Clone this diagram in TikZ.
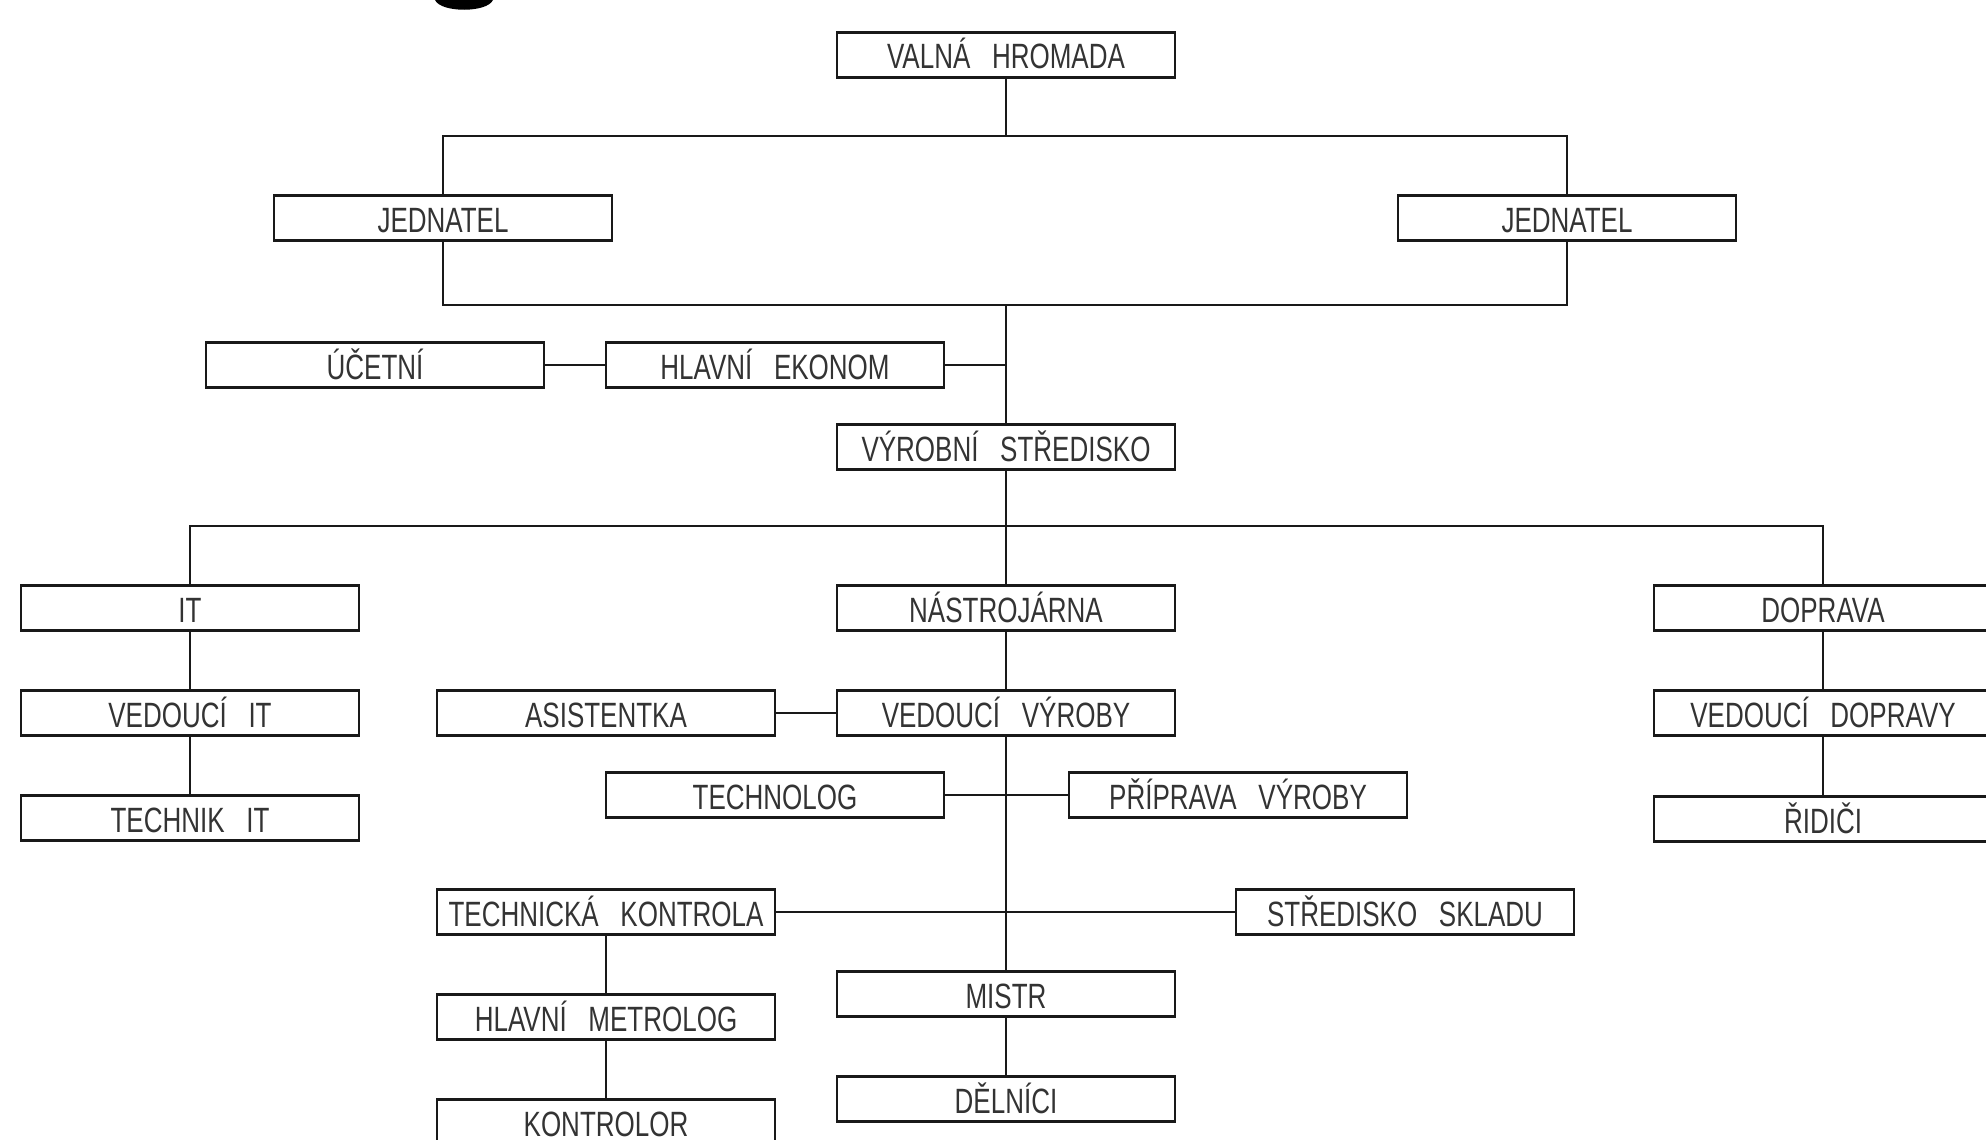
\documentclass[tikz,border=0pt]{standalone}
\usepackage{fontspec}
\newfontfamily\cadfont[FakeStretch=0.74,WordSpace=3]{Liberation Sans}
\usepackage{tikz}
\usetikzlibrary{calc,positioning}

\begin{document}
\begin{tikzpicture}[x=0.02cm, y=-0.02cm, line width=1.25pt, draw=black!90,
	dept/.style={draw, minimum width=6.76cm, minimum height=0.9cm, inner sep=0pt,
		text height=0.56cm, text depth=0cm, text=black!80,
		font=\cadfont\fontsize{20}{20}\selectfont}]
	\useasboundingbox (0,0) rectangle (1986,1139);
	\clip (0,0) rectangle (1986,1139);
	\fill (435,0) .. controls (441,13) and (487,13) .. (493,0) -- cycle;

	\node (valna) [dept] at (1006,55) {VALNÁ HROMADA};
	\node (jedL) [dept] at (443,218) {JEDNATEL};
	\node (jedR) [dept] at (1567,218) {JEDNATEL};
	\node (ucetni) [dept] at (375,365) {ÚČETNÍ};
	\node (ekonom) [dept] at (775,365) {HLAVNÍ EKONOM};
	\node (vyrobni) [dept] at (1006,447) {VÝROBNÍ STŘEDISKO};
	\node (it) [dept] at (190,608) {IT};
	\node (nastroj) [dept] at (1006,608) {NÁSTROJÁRNA};
	\node (doprava) [dept] at (1823,608) {DOPRAVA};
	\node (vedit) [dept] at (190,713) {VEDOUCÍ IT};
	\node (asist) [dept] at (606,713) {ASISTENTKA};
	\node (vedvyr) [dept] at (1006,713) {VEDOUCÍ VÝROBY};
	\node (veddop) [dept] at (1823,713) {VEDOUCÍ DOPRAVY};
	\node (technikit) [dept] at (190,818) {TECHNIK IT};
	\node (technolog) [dept] at (775,795) {TECHNOLOG};
	\node (priprava) [dept] at (1238,795) {PŘÍPRAVA VÝROBY};
	\node (ridici) [dept] at (1823,819) {ŘIDIČI};
	\node (techkon) [dept] at (606,912) {TECHNICKÁ KONTROLA};
	\node (sklad) [dept] at (1405,912) {STŘEDISKO SKLADU};
	\node (mistr) [dept] at (1006,994) {MISTR};
	\node (metrolog) [dept] at (606,1017) {HLAVNÍ METROLOG};
	\node (delnici) [dept] at (1006,1099) {DĚLNÍCI};
	\node (kontrolor) [dept] at (606,1122) {KONTROLOR};

	% sběrnice
	\coordinate (b1) at (1006,136);
	\coordinate (b2) at (1006,305);
	\coordinate (b3) at (1006,526);
	\draw (valna) -- (b1);
	\draw (jedL) |- (b1) -| (jedR);
	\draw (jedL) |- (b2) -| (jedR);
	\draw (b2) -- (vyrobni);
	\draw (ekonom) -- (ekonom -| b2);
	\draw (ucetni) -- (ekonom);
	\draw (vyrobni) -- (nastroj);
	\draw (it) |- (b3) -| (doprava);
	\draw (it) -- (vedit) -- (technikit);
	\draw (doprava) -- (veddop) -- (ridici);
	\draw (nastroj) -- (vedvyr) -- (mistr) -- (delnici);
	\draw (asist) -- (vedvyr);
	\draw (technolog) -- (priprava);
	\draw (techkon) -- (sklad);
	\draw (techkon) -- (metrolog) -- (kontrolor);
\end{tikzpicture}
\end{document}
